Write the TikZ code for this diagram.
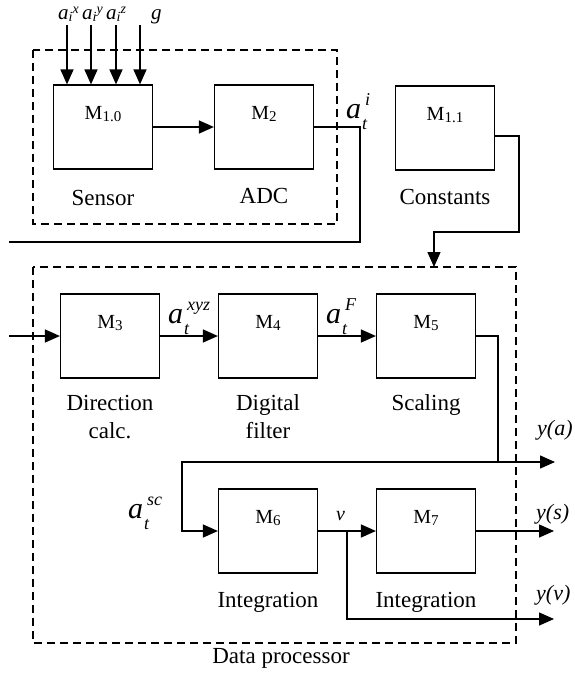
\documentclass[tikz,border=0pt]{standalone}
\usepackage{fontspec}
\setmainfont{Liberation Serif}
\usetikzlibrary{arrows.meta,positioning,calc}

\newcommand{\scr}[1]{{\fontsize{18}{18}\selectfont\textit{#1}}}
\newcommand{\asig}[2]{\textit{a}\kern1pt\rlap{\raisebox{-11pt}{\scr{#1}}}\kern3pt\raisebox{13pt}{\scr{#2}}}
\newcommand{\ain}[2]{\textit{a}\raisebox{-2pt}{\fontsize{14}{14}\selectfont\textit{#1}}\raisebox{6pt}{\fontsize{14}{14}\selectfont\textit{#2}}}
\newcommand{\Mb}[1]{M\raisebox{-2pt}{\fontsize{15}{15}\selectfont #1}}

\tikzset{
  blk/.style={draw, line width=1.2pt, minimum width=99pt, minimum height=84pt,
    inner sep=0pt, text height=14pt, text depth=29pt, font=\fontsize{20}{24}\selectfont},
  blkname/.style={inner sep=0pt, align=center, font=\fontsize{23}{28}\selectfont},
  sig/.style={inner sep=0pt, anchor=base west, font=\fontsize{30}{32}\selectfont},
  inlbl/.style={inner sep=0pt, anchor=base west, font=\fontsize{21}{24}\selectfont},
  outlbl/.style={inner sep=0pt, anchor=base west, font=\fontsize{22}{26}\selectfont\itshape},
  wire/.style={line width=1.4pt},
  arr/.style={line width=1.4pt, -{Triangle[length=15pt,width=13pt]}},
  group/.style={line width=1.2pt, dash pattern=on 8pt off 5pt},
}

\begin{document}
\begin{tikzpicture}[x=1pt,y=-1pt]
  \useasboundingbox (0,0) rectangle (575,673);
  \draw[group] (33,50) rectangle (337,224);
  \draw[group] (33,267) rectangle (516,643);

  \node[blk] (m10) at (103,127) {\Mb{1.0}};
  \node[blk] (m2) at (264,127) {\Mb{2}};
  \node[blk] (m11) at (445,128) {\Mb{1.1}};
  \node[blk] (m3) at (110,336) {\Mb{3}};
  \node[blk] (m4) at (268,336) {\Mb{4}};
  \node[blk] (m5) at (426,336) {\Mb{5}};
  \node[blk] (m6) at (268,531) {\Mb{6}};
  \node[blk] (m7) at (426,531) {\Mb{7}};

  \node[blkname, below=20pt of m10] (sensor) {Sensor};
  \node[blkname, below=18pt of m2] (adc) {ADC};
  \node[blkname, below=18pt of m11] (const) {Constants};
  \node[blkname, below=16pt of m3] (dir) {Direction\\calc.};
  \node[blkname, below=16pt of m4] (filt) {Digital\\filter};
  \node[blkname, below=16pt of m5] (scal) {Scaling};
  \node[blkname, below=18pt of m6] (int1) {Integration};
  \node[blkname, below=18pt of m7] (int2) {Integration};
  \node[blkname, anchor=base] (proc) at (281,663) {Data processor};

  \node[inlbl] (lx) at (58,19) {\ain{i}{x}};
  \node[inlbl] (ly) at (82,19) {\ain{i}{y}};
  \node[inlbl] (lz) at (106,19) {\ain{i}{z}};
  \node[inlbl] (lg) at (151,19) {\textit{g}};
  \foreach \x/\n in {67/1,91/2,116/3,140/4}{
    \coordinate (in\n) at (\x,25);
    \draw[arr] (in\n) -- (in\n |- m10.north);
  }

  \node[sig] (ai) at (346,118) {\asig{t}{i}};
  \node[sig] (axyz) at (168,323) {\asig{t}{xyz}};
  \node[sig] (aF) at (326,323) {\asig{t}{F}};
  \node[sig] (asc) at (128,518) {\asig{t}{sc}};
  \node[inlbl, font=\fontsize{20}{24}\selectfont\itshape] (v) at (336,520) {v};
  \node[outlbl] (ya) at (537,435) {y(a)};
  \node[outlbl] (ys) at (536,519) {y(s)};
  \node[outlbl] (yv) at (536,600) {y(v)};

  \draw[arr] (m10) -- (m2);
  \coordinate (fb1) at (360,242);
  \coordinate (fb2) at (9,242);
  \draw[wire] (m2.east) -| (fb1) -- (fb2);
  \coordinate (fb3) at (9,336);
  \draw[arr] (fb3) -- (m3);

  \coordinate (c4) at (519,232);
  \coordinate (c5) at (434,267);
  \draw[arr] ([yshift=-8pt]m11.east) -| (c4) -| (c5);

  \draw[arr] (m3) -- (m4);
  \draw[arr] (m4) -- (m5);

  \coordinate (j1) at (498,462);
  \coordinate (outa) at (555,462);
  \coordinate (k1) at (182,462);
  \draw[arr] (m5.east) -| (j1) -- (outa);
  \draw[arr] (j1) -- (k1) |- (m6.west);

  \draw[arr] (m6) -- (m7);
  \coordinate (j2) at ($(m6.east)!0.5!(m7.west)$);
  \coordinate (outs) at (554,531);
  \coordinate (outv) at (554,619);
  \draw[arr] (m7) -- (outs);
  \draw[arr] (j2) |- (outv);
\end{tikzpicture}
\end{document}
